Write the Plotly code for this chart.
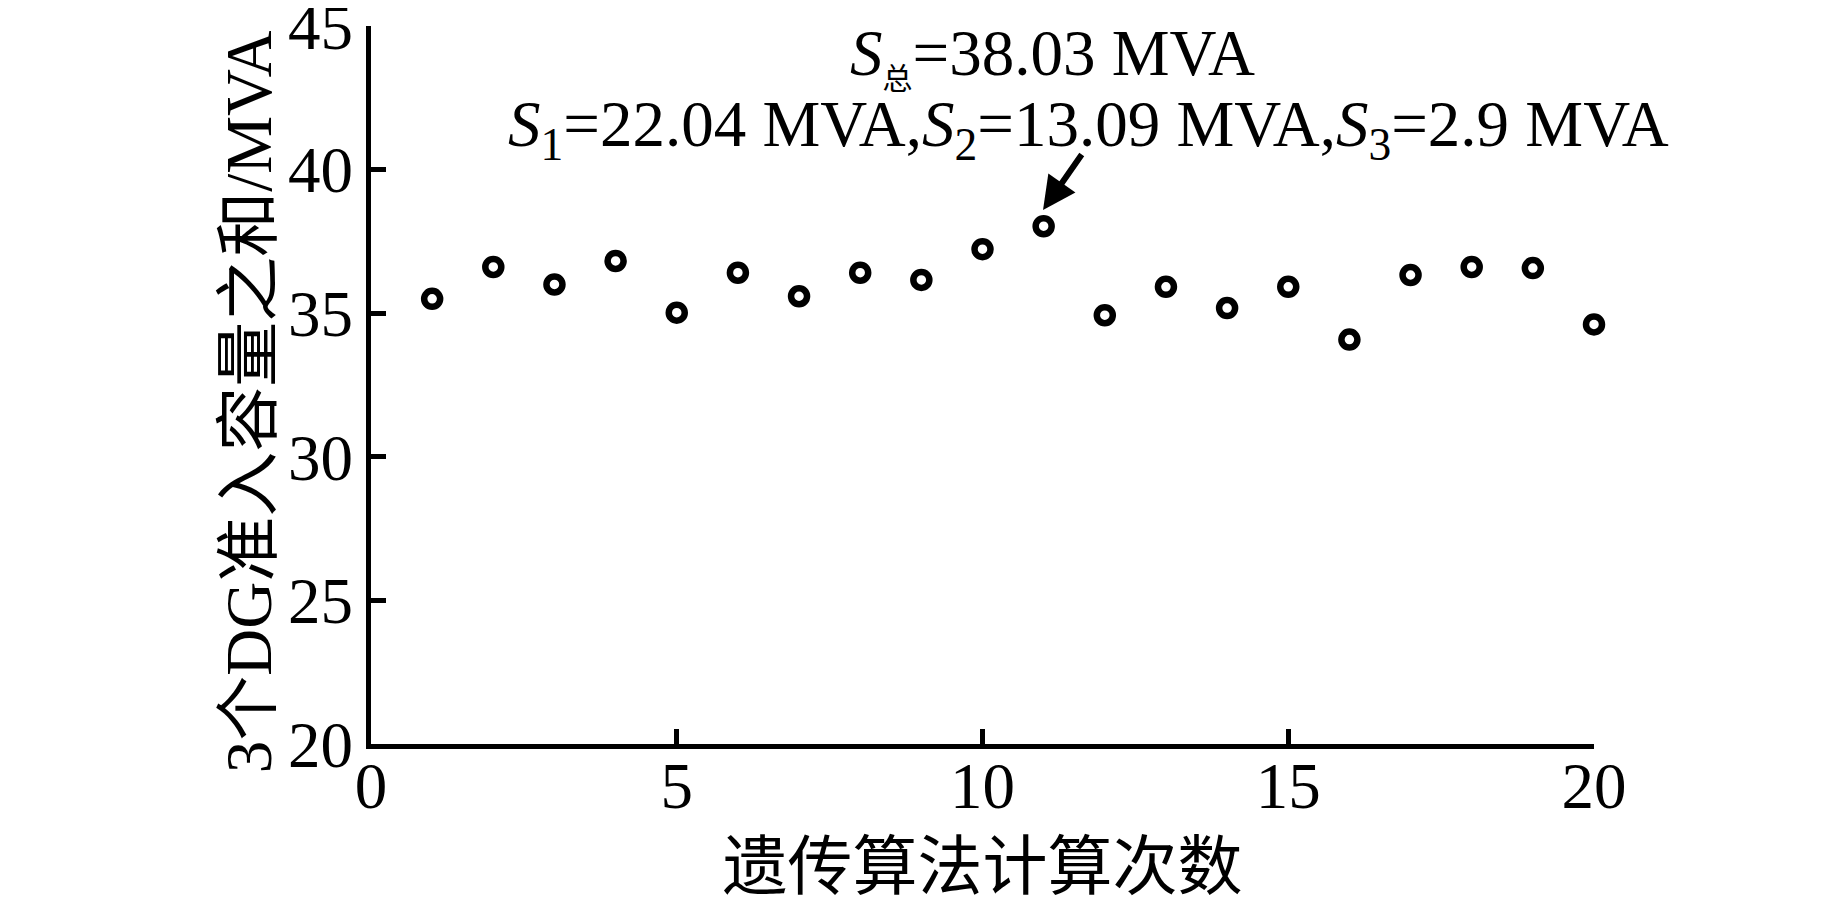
import plotly.graph_objects as go

# 遗传算法 20 次计算得到的 3 个 DG 准入容量之和 (MVA)
runs = list(range(1, 21))
total_cap = [35.50, 36.61, 36.00, 36.82, 35.02, 36.41, 35.59, 36.41, 36.16, 37.23,
             38.03, 34.93, 35.92, 35.18, 35.92, 34.08, 36.33, 36.61, 36.57, 34.61]

x_ticks = [0, 5, 10, 15, 20]
y_ticks = [20, 25, 30, 35, 40, 45]

best_run = 11
best_total = 38.03
s_parts = [22.04, 13.09, 2.9]

serif = "Liberation Serif, Times New Roman, Noto Sans CJK SC, serif"
fs = 65

fig = go.Figure()
fig.add_trace(go.Scatter(x=runs, y=total_cap, mode="markers",
                         marker=dict(symbol="circle-open", size=16, color="black",
                                     line=dict(width=6.5, color="black")),
                         showlegend=False, cliponaxis=False))

line1 = "<i>S</i><sub><span style=\"font-size:30px\">总</span></sub>=%.2f MVA" % best_total
line2 = ",".join("<i>S</i><sub>%d</sub>=%s MVA" % (i + 1, v) for i, v in enumerate(s_parts))

fig.add_annotation(x=11.15, y=43.96, xref="x", yref="y", text=line1, showarrow=False,
                   font=dict(family=serif, size=fs, color="black"),
                   xanchor="center", yanchor="middle")
fig.add_annotation(x=11.74, y=41.43, xref="x", yref="y", text=line2, showarrow=False,
                   font=dict(family=serif, size=fs, color="black"),
                   xanchor="center", yanchor="middle")
# arrow pointing at the best run
fig.add_annotation(x=best_run - 0.01, y=38.59, ax=11.64, ay=40.58, xref="x", yref="y",
                   axref="x", ayref="y", text="", showarrow=True,
                   arrowhead=2, arrowsize=1.1, arrowwidth=6, arrowcolor="black")

# y axis title placed by hand (sits a bit below the plot centre in the original)
fig.add_annotation(x=0, y=0.476, xref="paper", yref="paper", xshift=-122,
                   text="3个DG准入容量之和/MVA", textangle=-90, showarrow=False,
                   font=dict(family=serif, size=fs, color="black"),
                   xanchor="center", yanchor="middle")

axis_common = dict(ticks="inside", ticklen=15, tickwidth=5, tickcolor="black",
                   showline=True, linewidth=5, linecolor="black",
                   showgrid=False, zeroline=False, automargin=False,
                   ticklabeloverflow="allow",
                   tickfont=dict(family=serif, size=fs, color="black"))

fig.update_layout(
    width=1827, height=898,
    margin=dict(l=363, r=241, t=18, b=162),
    plot_bgcolor="white", paper_bgcolor="white",
    font=dict(family=serif, size=fs, color="black"),
    xaxis=dict(range=[0, 20], tickvals=x_ticks, ticklabelstandoff=-19,
               title=dict(text="遗传算法计算次数", standoff=24,
                          font=dict(family=serif, size=fs)),
               **axis_common),
    yaxis=dict(range=[20, 45], tickvals=y_ticks, **axis_common),
)

fig.write_html("out.html")
